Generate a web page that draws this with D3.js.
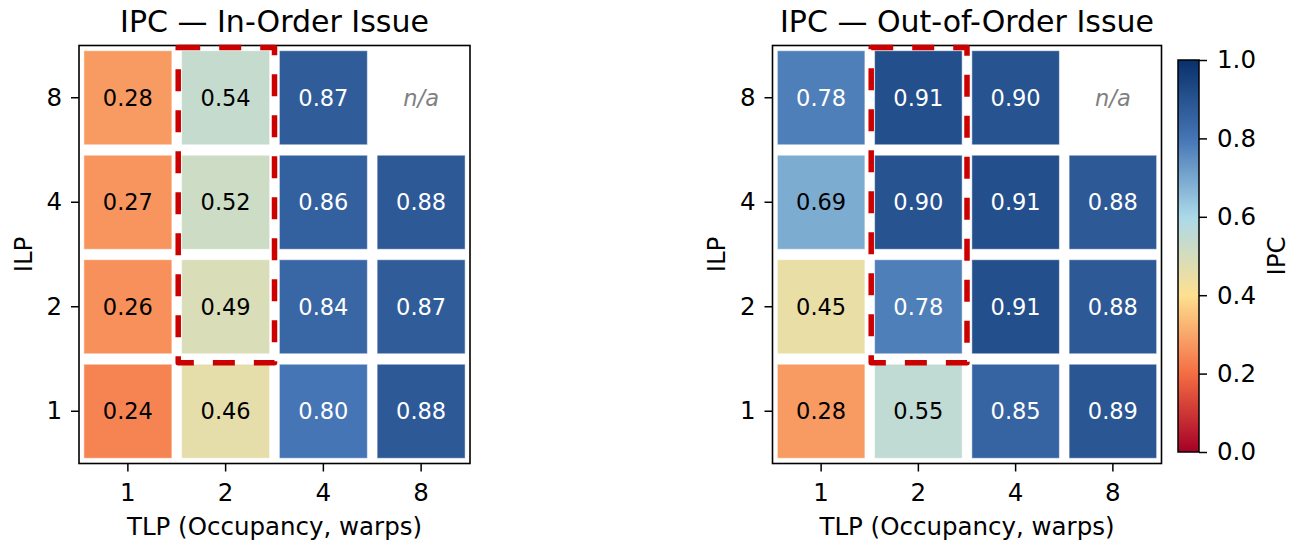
<!DOCTYPE html>
<html>
<head>
<meta charset="utf-8">
<script src="https://cdn.jsdelivr.net/npm/d3@7"></script>
<style>
  body { margin: 0; background: white; }
  svg { display: block; font-family: "DejaVu Sans", sans-serif; }
</style>
</head>
<body>
<svg id="chart" width="1291" height="545"></svg>
<script>
/* data */
const tlpLabels = ["1", "2", "4", "8"]
const ilpLabels = ["8", "4", "2", "1"]   // top to bottom
const inOrderIPC = [
  [0.28, 0.54, 0.87, null],
  [0.27, 0.52, 0.86, 0.88],
  [0.26, 0.49, 0.84, 0.87],
  [0.24, 0.46, 0.80, 0.88],
]
const outOfOrderIPC = [
  [0.78, 0.91, 0.90, null],
  [0.69, 0.90, 0.91, 0.88],
  [0.45, 0.78, 0.91, 0.88],
  [0.28, 0.55, 0.85, 0.89],
]
const highlightCol = "2"
const highlightRows = ["8", "4", "2"]
const cbarTicks = [0, 0.2, 0.4, 0.6, 0.8, 1.0]
const cmapStops = ["#a50026", "#f46d43", "#fee090", "#abd9e9", "#4575b4", "#08306b"]

/* layout */
const panelTop = 45.5
const panelBottom = 463.5
const panels = [
  { title: "IPC — In-Order Issue", data: inOrderIPC, left: 79, right: 470 },
  { title: "IPC — Out-of-Order Issue", data: outOfOrderIPC, left: 772.5, right: 1161.5 },
]
const cbar = { left: 1178, right: 1199, top: 60, bottom: 452 }

const color = d3.scaleLinear()
  .domain(d3.range(cmapStops.length).map(i => i / (cmapStops.length - 1)))
  .range(cmapStops)
  .interpolate(d3.interpolateRgb)

const svg = d3.select("#chart")

/** draw one heatmap panel */
function drawPanel(p) {
  const x = d3.scaleBand(tlpLabels, [p.left, p.right]).paddingInner(0.1).paddingOuter(0.05)
  const y = d3.scaleBand(ilpLabels, [panelTop, panelBottom]).paddingInner(0.1).paddingOuter(0.05)
  const g = svg.append("g")

  const cells = []
  ilpLabels.forEach((r, i) => tlpLabels.forEach((c, j) => cells.push({ r, c, v: p.data[i][j] })))

  g.selectAll("rect.cell")
    .data(cells.filter(d => d.v != null))
    .join("rect")
    .attr("class", "cell")
    .attr("x", d => x(d.c))
    .attr("y", d => y(d.r))
    .attr("width", x.bandwidth())
    .attr("height", y.bandwidth())
    .attr("fill", d => color(d.v))
    .attr("stroke", "white")
    .attr("stroke-opacity", 0.5)
    .attr("stroke-width", 1)

  g.selectAll("text.val")
    .data(cells)
    .join("text")
    .attr("class", "val")
    .attr("x", d => x(d.c) + x.bandwidth() / 2)
    .attr("y", d => y(d.r) + y.bandwidth() / 2)
    .attr("dy", "0.36em")
    .attr("text-anchor", "middle")
    .attr("font-size", 22.5)
    .attr("font-style", d => d.v == null ? "italic" : null)
    .attr("fill", d => d.v == null ? "#808080" : (d.v > 0.7 ? "white" : "black"))
    .text(d => d.v == null ? "n/a" : d.v.toFixed(2))

  /* frame */
  g.append("rect")
    .attr("x", p.left).attr("y", panelTop)
    .attr("width", p.right - p.left).attr("height", panelBottom - panelTop)
    .attr("fill", "none").attr("stroke", "black").attr("stroke-width", 1.6)

  /* highlight box around TLP=2, ILP 2..8 */
  const step = x.step(), stepY = y.step()
  const hx0 = x(highlightCol) - step * 0.05 + step * 0.015
  const hx1 = x(highlightCol) + x.bandwidth() + step * 0.05
  const hy0 = y(highlightRows[0]) - stepY * 0.05 + stepY * 0.02
  const hy1 = y(highlightRows[highlightRows.length - 1]) + y.bandwidth() + stepY * 0.05 + stepY * 0.035
  g.append("rect")
    .attr("x", hx0).attr("y", hy0)
    .attr("width", hx1 - hx0).attr("height", hy1 - hy0)
    .attr("fill", "none")
    .attr("stroke", "#cc0000")
    .attr("stroke-width", 5.5)
    .attr("stroke-dasharray", "22,19")
    .attr("stroke-linejoin", "round")

  /* axes */
  g.append("g")
    .attr("transform", `translate(0,${panelBottom})`)
    .call(d3.axisBottom(x).tickSize(8).tickPadding(12).tickSizeOuter(0))
    .call(a => a.select(".domain").remove())
    .call(a => a.selectAll(".tick line").attr("stroke-width", 1.5))
    .call(a => a.selectAll(".tick text").attr("font-size", 24.5).attr("font-family", "DejaVu Sans").attr("fill", "black"))

  g.append("g")
    .attr("transform", `translate(${p.left},0)`)
    .call(d3.axisLeft(y).tickSize(8).tickPadding(9).tickSizeOuter(0))
    .call(a => a.select(".domain").remove())
    .call(a => a.selectAll(".tick line").attr("stroke-width", 1.5))
    .call(a => a.selectAll(".tick text").attr("font-size", 24.5).attr("font-family", "DejaVu Sans").attr("fill", "black"))

  g.append("text")
    .attr("x", (p.left + p.right) / 2).attr("y", 31.5)
    .attr("text-anchor", "middle").attr("font-size", 30)
    .text(p.title)

  g.append("text")
    .attr("x", (p.left + p.right) / 2).attr("y", 535)
    .attr("text-anchor", "middle").attr("font-size", 24.5)
    .text("TLP (Occupancy, warps)")

  g.append("text")
    .attr("transform", `translate(${p.left - 47.5},${(panelTop + panelBottom) / 2}) rotate(-90)`)
    .attr("text-anchor", "middle").attr("font-size", 24.5)
    .text("ILP")
}

panels.forEach(drawPanel)

/* colorbar */
const cy = d3.scaleLinear([0, 1], [cbar.bottom, cbar.top])
const grad = svg.append("defs").append("linearGradient")
  .attr("id", "cbar-grad")
  .attr("x1", 0).attr("y1", 1).attr("x2", 0).attr("y2", 0)
grad.selectAll("stop")
  .data(d3.range(0, 1.0001, 0.02))
  .join("stop")
  .attr("offset", d => d)
  .attr("stop-color", d => color(d))

svg.append("rect")
  .attr("x", cbar.left).attr("y", cbar.top)
  .attr("width", cbar.right - cbar.left).attr("height", cbar.bottom - cbar.top)
  .attr("fill", "url(#cbar-grad)")
  .attr("stroke", "black").attr("stroke-width", 1.5)

svg.append("g")
  .attr("transform", `translate(${cbar.right},0)`)
  .call(d3.axisRight(cy).tickValues(cbarTicks).tickFormat(d3.format(".1f")).tickSize(8).tickPadding(10).tickSizeOuter(0))
  .call(a => a.select(".domain").remove())
  .call(a => a.selectAll(".tick line").attr("stroke-width", 1.5))
  .call(a => a.selectAll(".tick text").attr("font-size", 24.5).attr("font-family", "DejaVu Sans").attr("fill", "black"))

svg.append("text")
  .attr("transform", `translate(1285,${(cbar.top + cbar.bottom) / 2}) rotate(-90)`)
  .attr("text-anchor", "middle").attr("font-size", 24.5)
  .text("IPC")
</script>
</body>
</html>
